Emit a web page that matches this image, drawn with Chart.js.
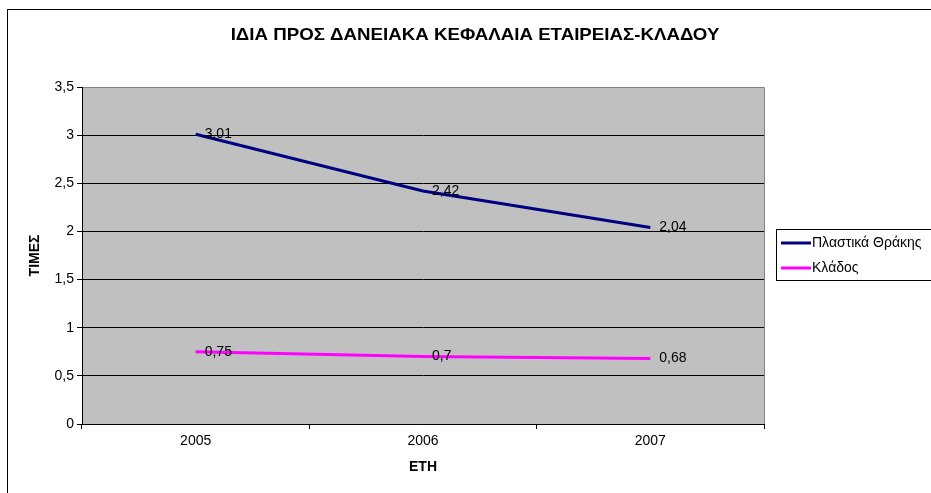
<!DOCTYPE html>
<html>
<head>
  <meta charset="utf-8">
  <title>Ίδια προς δανειακά κεφάλαια</title>
  <script src="https://cdn.jsdelivr.net/npm/chart.js"></script>
  <style>
    html, body {
      margin: 0;
      padding: 0;
      background: white;
      overflow: hidden;
    }
    .chart-box {
      width: 931px;
      height: 493px;
    }
  </style>
</head>
<body>
  <div class="chart-box">
    <canvas id="ratioChart" width="931" height="493"></canvas>
  </div>

  <script>
    const years     = ['2005', '2006', '2007'];
    const plastika  = [3.01, 2.42, 2.04];
    const klados    = [0.75, 0.7, 0.68];
    const seriesNames = ['Πλαστικά Θράκης', 'Κλάδος'];
    const seriesColors = ['#000080', '#FF00FF'];

    const chartTitle = 'ΙΔΙΑ ΠΡΟΣ ΔΑΝΕΙΑΚΑ ΚΕΦΑΛΑΙΑ ΕΤΑΙΡΕΙΑΣ-ΚΛΑΔΟΥ';
    const fontFamily = 'Arial, "Liberation Sans", sans-serif';

    const fmt = v => String(v).replace('.', ',');

    // gray plot background, outer frame, title, legend and value labels
    const excelLook = {
      id: 'excelLook',
      beforeDraw(chart) {
        const { ctx, chartArea: a } = chart;
        ctx.save();
        ctx.fillStyle = '#ffffff';
        ctx.fillRect(0, 0, chart.width, chart.height);
        ctx.strokeStyle = '#000000';
        ctx.lineWidth = 1;
        ctx.strokeRect(7.5, 9.5, 1200, 1200);
        ctx.fillStyle = '#C0C0C0';
        ctx.fillRect(a.left, a.top, a.right - a.left, a.bottom - a.top);
        ctx.strokeStyle = '#808080';
        ctx.beginPath();
        ctx.moveTo(a.left, a.top + 0.5);
        ctx.lineTo(a.right + 0.5, a.top + 0.5);
        ctx.lineTo(a.right + 0.5, a.bottom);
        ctx.stroke();

        // title, slightly widened like the original sheet chart
        ctx.fillStyle = '#000000';
        ctx.font = 'bold 17px ' + fontFamily;
        ctx.textAlign = 'center';
        ctx.textBaseline = 'middle';
        ctx.translate(475, 35);
        ctx.scale(1.1, 1);
        ctx.fillText(chartTitle, 0, 0);
        ctx.restore();
      },
      afterDatasetsDraw(chart) {
        const { ctx } = chart;
        ctx.save();
        ctx.font = '14px ' + fontFamily;
        ctx.fillStyle = '#000000';
        ctx.textAlign = 'left';
        ctx.textBaseline = 'middle';
        chart.data.datasets.forEach((ds, i) => {
          chart.getDatasetMeta(i).data.forEach((pt, j) => {
            ctx.fillText(fmt(ds.data[j]), pt.x + 9, pt.y);
          });
        });

        // legend box
        ctx.strokeStyle = '#000000';
        ctx.lineWidth = 1;
        ctx.strokeRect(776.5, 229.5, 400, 51);
        seriesNames.forEach((name, i) => {
          const y = 243 + i * 25;
          ctx.strokeStyle = seriesColors[i];
          ctx.lineWidth = 3;
          ctx.beginPath();
          ctx.moveTo(781, y);
          ctx.lineTo(811, y);
          ctx.stroke();
          ctx.fillStyle = '#000000';
          ctx.fillText(name, 812, y);
        });
        ctx.restore();
      }
    };

    const ctx = document.getElementById('ratioChart').getContext('2d');
    const chart = new Chart(ctx, {
      type: 'line',
      data: {
        labels: years,
        datasets: [
          { label: seriesNames[0], data: plastika, borderColor: seriesColors[0], borderWidth: 3, pointRadius: 0, fill: false, tension: 0 },
          { label: seriesNames[1], data: klados,   borderColor: seriesColors[1], borderWidth: 3, pointRadius: 0, fill: false, tension: 0 }
        ]
      },
      options: {
        responsive: false,
        animation: false,
        devicePixelRatio: 1,
        layout: { padding: { left: 27, top: 87, right: 167, bottom: 0 } },
        plugins: {
          legend: { display: false },
          title: { display: false },
          tooltip: { enabled: false }
        },
        scales: {
          x: {
            offset: true,
            grid: { offset: true, drawOnChartArea: false, drawTicks: true, tickLength: 5, color: '#000000' },
            border: { color: '#000000', width: 1 },
            ticks: { color: '#000000', font: { family: fontFamily, size: 14 }, padding: 4 },
            title: { display: true, text: 'ΕΤΗ', color: '#000000', font: { family: fontFamily, size: 14, weight: 'bold' }, padding: { top: 4, bottom: 17 } },
            afterFit(scale) { scale.height = 69; }
          },
          y: {
            min: 0,
            max: 3.5,
            ticks: {
              stepSize: 0.5,
              color: '#000000',
              padding: 3,
              font: { family: fontFamily, size: 14 },
              callback: v => fmt(v)
            },
            grid: {
              drawTicks: true,
              tickLength: 5,
              tickColor: '#000000',
              color: c => (c.tick && c.tick.value === 3.5) ? '#808080' : '#000000'
            },
            border: { color: '#000000', width: 1 },
            title: { display: true, text: 'ΤΙΜΕΣ', color: '#000000', font: { family: fontFamily, size: 14, weight: 'bold' }, padding: { top: 0, bottom: 0 } },
            afterFit(scale) { scale.width = 55; }
          }
        }
      },
      plugins: [excelLook]
    });
  </script>
</body>
</html>
